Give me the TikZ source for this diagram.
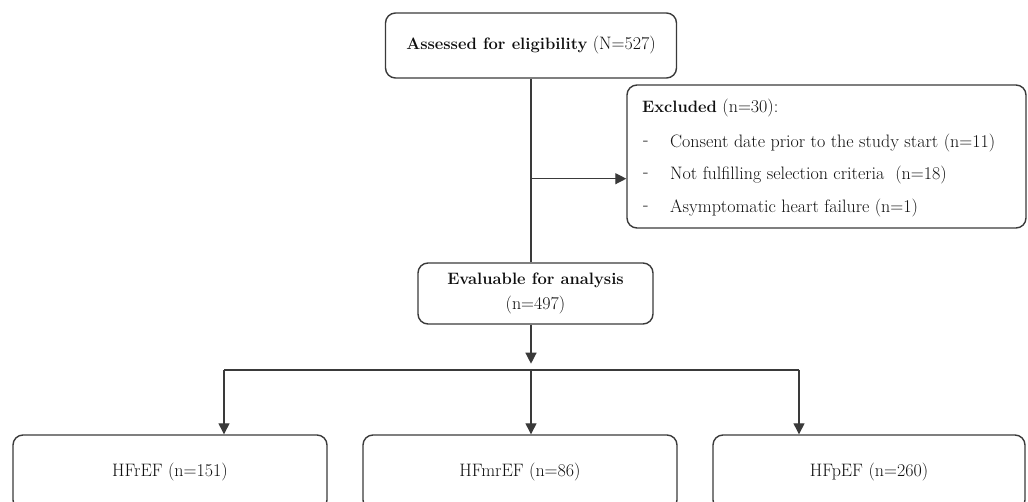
\documentclass[tikz,border=0pt]{standalone}
\usetikzlibrary{arrows.meta}
\definecolor{linec}{RGB}{58,58,58}
\definecolor{txtc}{RGB}{15,15,15}
\newcommand{\bfpart}[1]{{\fontsize{16.5}{20}\selectfont\bfseries #1}}
\begin{document}
\begin{tikzpicture}[x=1pt,y=-1pt,
  box/.style={draw=linec, line width=1.4pt, rounded corners=10pt, inner sep=0pt,
    text=txtc, font=\fontsize{18}{22}\selectfont, align=center},
  conn/.style={draw=linec, line width=1.3pt},
  arr/.style={conn, -{Triangle[width=11pt,length=11pt]}},
  txt/.style={font=\fontsize{18}{22}\selectfont, text=txtc, inner sep=0pt, anchor=west}]
\useasboundingbox (0,0) rectangle (1028,502);
\clip (0,0) rectangle (1028,502);
\node[box, minimum width=291pt, minimum height=65pt] (top) at (531,45.5)
  {\bfpart{Assessed for eligibility} (N=527)};
\node[box, minimum width=399pt, minimum height=143pt] (exc) at (826.5,156.5) {};
\node[txt] (e0) at (642,108) {\bfpart{Excluded} (n=30):};
\node[txt] (d1) at (643,143) {-};
\node[txt] (e1) at (670,143) {Consent date prior to the study start (n=11)};
\node[txt] (d2) at (643,175) {-};
\node[txt] (e2) at (670,175) {Not fulfilling selection criteria\ \ (n=18)};
\node[txt] (d3) at (643,208) {-};
\node[txt] (e3) at (670,208) {Asymptomatic heart failure (n=1)};
\node[box, minimum width=235pt, minimum height=61pt, font=\fontsize{18}{25}\selectfont]
  (eval) at (535.5,293.5) {\bfpart{Evaluable for analysis}\\(n=497)};
\node[box, minimum width=314pt, minimum height=75pt] (b1) at (170,472.5) {HFrEF (n=151)};
\node[box, minimum width=314pt, minimum height=75pt] (b2) at (520,472.5) {HFmrEF (n=86)};
\node[box, minimum width=312pt, minimum height=75pt] (b3) at (869,472.5) {HFpEF (n=260)};
% connectors
\draw[conn] (top.south) -- (top.south |- eval.north);
\path (top.south) ++(0,100) coordinate (j1);
\draw[arr] (j1) -- (j1 -| exc.west);
\coordinate (j2) at (top.south |- eval.south);
\draw[arr] (j2) -- ++(0,39);
\path (j2) ++(0,46) coordinate (bus);
\coordinate (busL) at (224,370);
\coordinate (busR) at (799,370);
\draw[conn] (busL) -- (busR);
\draw[arr] (busL) -- (busL |- b1.north);
\draw[arr] (bus) -- (bus |- b2.north);
\draw[arr] (busR) -- (busR |- b3.north);
\end{tikzpicture}
\end{document}
